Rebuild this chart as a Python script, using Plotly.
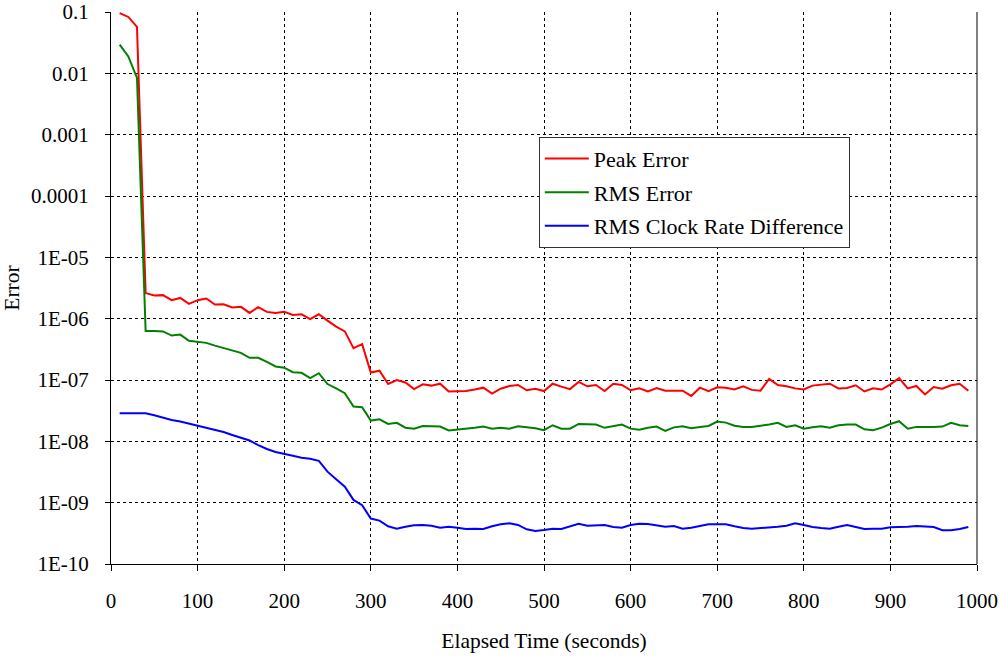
import plotly.graph_objects as go

time_s = list(range(10, 1000, 10))

peak_error = [
    0.096, 0.083, 0.057, 2.61e-6, 2.38e-6, 2.42e-6, 2.00e-6, 2.18e-6, 1.74e-6, 2.00e-6,
    2.13e-6, 1.70e-6, 1.72e-6, 1.52e-6, 1.56e-6, 1.24e-6, 1.54e-6, 1.29e-6, 1.24e-6, 1.29e-6,
    1.15e-6, 1.18e-6, 9.8e-7, 1.18e-6, 9.3e-7, 7.4e-7, 6.2e-7, 3.3e-7, 3.84e-7, 1.32e-7,
    1.42e-7, 8.6e-8, 1.00e-7, 9.1e-8, 7.1e-8, 8.5e-8, 8.1e-8, 8.7e-8, 6.5e-8, 6.6e-8,
    6.6e-8, 7.0e-8, 7.5e-8, 6.0e-8, 7.2e-8, 8.0e-8, 8.3e-8, 6.8e-8, 7.2e-8, 6.6e-8,
    8.7e-8, 7.8e-8, 7.1e-8, 9.3e-8, 7.9e-8, 8.3e-8, 6.6e-8, 8.7e-8, 8.3e-8, 6.8e-8,
    7.3e-8, 6.5e-8, 7.4e-8, 6.7e-8, 6.7e-8, 6.7e-8, 5.5e-8, 7.5e-8, 6.6e-8, 7.6e-8,
    7.5e-8, 7.0e-8, 7.9e-8, 6.9e-8, 6.7e-8, 1.04e-7, 8.3e-8, 7.9e-8, 7.3e-8, 7.0e-8,
    8.1e-8, 8.4e-8, 8.7e-8, 7.3e-8, 7.4e-8, 8.2e-8, 6.5e-8, 7.3e-8, 7.0e-8, 8.5e-8,
    1.07e-7, 7.3e-8, 8.0e-8, 5.8e-8, 7.7e-8, 7.2e-8, 8.2e-8, 8.7e-8, 6.7e-8,
]

rms_error = [
    0.0293, 0.0189, 0.0084, 6.3e-7, 6.3e-7, 6.2e-7, 5.3e-7, 5.5e-7, 4.35e-7, 4.23e-7,
    4.03e-7, 3.64e-7, 3.30e-7, 3.02e-7, 2.77e-7, 2.30e-7, 2.30e-7, 1.97e-7, 1.66e-7, 1.59e-7,
    1.34e-7, 1.31e-7, 1.07e-7, 1.29e-7, 8.6e-8, 7.3e-8, 6.1e-8, 3.7e-8, 3.6e-8, 2.18e-8,
    2.29e-8, 1.92e-8, 2.0e-8, 1.67e-8, 1.61e-8, 1.78e-8, 1.74e-8, 1.74e-8, 1.50e-8, 1.54e-8,
    1.61e-8, 1.66e-8, 1.74e-8, 1.61e-8, 1.66e-8, 1.61e-8, 1.76e-8, 1.70e-8, 1.64e-8, 1.52e-8,
    1.83e-8, 1.61e-8, 1.61e-8, 1.92e-8, 1.90e-8, 1.88e-8, 1.66e-8, 1.78e-8, 1.88e-8, 1.61e-8,
    1.54e-8, 1.66e-8, 1.74e-8, 1.48e-8, 1.69e-8, 1.76e-8, 1.64e-8, 1.72e-8, 1.78e-8, 2.10e-8,
    2.02e-8, 1.80e-8, 1.72e-8, 1.72e-8, 1.78e-8, 1.88e-8, 2.0e-8, 1.72e-8, 1.83e-8, 1.61e-8,
    1.70e-8, 1.76e-8, 1.67e-8, 1.83e-8, 1.88e-8, 1.88e-8, 1.57e-8, 1.52e-8, 1.67e-8, 1.92e-8,
    2.13e-8, 1.61e-8, 1.72e-8, 1.70e-8, 1.72e-8, 1.74e-8, 2.0e-8, 1.83e-8, 1.78e-8,
]

rms_clock_rate_diff = [
    2.87e-8, 2.87e-8, 2.87e-8, 2.87e-8, 2.67e-8, 2.41e-8, 2.23e-8, 2.10e-8, 1.95e-8, 1.80e-8,
    1.64e-8, 1.54e-8, 1.42e-8, 1.27e-8, 1.15e-8, 1.03e-8, 8.7e-9, 7.5e-9, 6.7e-9, 6.3e-9,
    5.8e-9, 5.4e-9, 5.2e-9, 4.8e-9, 3.2e-9, 2.41e-9, 1.82e-9, 1.11e-9, 9.1e-10, 5.5e-10,
    5.1e-10, 4.12e-10, 3.77e-10, 4.06e-10, 4.28e-10, 4.33e-10, 4.21e-10, 3.91e-10, 4.06e-10, 3.91e-10,
    3.72e-10, 3.77e-10, 3.72e-10, 4.12e-10, 4.44e-10, 4.62e-10, 4.33e-10, 3.68e-10, 3.45e-10, 3.58e-10,
    3.77e-10, 3.72e-10, 4.06e-10, 4.54e-10, 4.21e-10, 4.33e-10, 4.33e-10, 4.01e-10, 3.91e-10, 4.33e-10,
    4.54e-10, 4.49e-10, 4.28e-10, 4.06e-10, 4.17e-10, 3.77e-10, 3.91e-10, 4.17e-10, 4.44e-10, 4.44e-10,
    4.44e-10, 4.12e-10, 3.86e-10, 3.77e-10, 3.86e-10, 3.86e-10, 4.06e-10, 4.21e-10, 4.62e-10, 4.33e-10,
    4.01e-10, 3.86e-10, 3.77e-10, 4.06e-10, 4.33e-10, 4.01e-10, 3.72e-10, 3.77e-10, 3.77e-10, 3.97e-10,
    3.97e-10, 4.06e-10, 4.17e-10, 4.12e-10, 4.01e-10, 3.55e-10, 3.55e-10, 3.72e-10, 4.01e-10,
]

series_names = ["Peak Error", "RMS Error", "RMS Clock Rate Difference"]
series_colors = ["#FF0000", "#008000", "#0000FF"]

x_ticks = list(range(0, 1001, 100))
y_tickvals = [1e-1, 1e-2, 1e-3, 1e-4, 1e-5, 1e-6, 1e-7, 1e-8, 1e-9, 1e-10]
y_ticktext = ["0.1", "0.01", "0.001", "0.0001", "1E-05", "1E-06", "1E-07", "1E-08", "1E-09", "1E-10"]

FONT = "Liberation Serif, Times New Roman, serif"

fig = go.Figure()
for name, color, vals in zip(series_names, series_colors,
                             [peak_error, rms_error, rms_clock_rate_diff]):
    fig.add_trace(go.Scatter(
        x=time_s, y=vals, mode="lines", name=name, legendgroup=name,
        line=dict(color=color, width=2),
    ))

fig.update_layout(
    width=1002, height=657,
    margin=dict(l=111, r=25, t=12, b=93, autoexpand=False),
    paper_bgcolor="white", plot_bgcolor="white",
    font=dict(family=FONT, size=21, color="black"),
    showlegend=True,
    legend=dict(
        x=0.494, y=0.774, xanchor="left", yanchor="top",
        bgcolor="white", bordercolor="#333333", borderwidth=1,
        font=dict(family=FONT, size=22, color="black"),
        tracegroupgap=2, itemwidth=44,
    ),
    xaxis=dict(
        range=[0, 1000], tickvals=x_ticks, ticks="outside", ticklen=6,
        tickcolor="black", showline=True, linecolor="black", linewidth=1,
        showgrid=True, gridcolor="black", griddash="3px,3px", gridwidth=1,
        zeroline=False, ticklabelstandoff=12, automargin=False,
        tickfont=dict(family=FONT, size=21),
        title=dict(text="Elapsed Time (seconds)", standoff=20,
                   font=dict(family=FONT, size=21.5)),
    ),
    yaxis=dict(
        type="log", range=[-10, -1], tickvals=y_tickvals, ticktext=y_ticktext,
        ticks="outside", ticklen=5, tickcolor="black",
        showline=True, linecolor="black", linewidth=1,
        showgrid=True, gridcolor="black", griddash="3px,3px", gridwidth=1,
        zeroline=False, ticklabelstandoff=12, automargin=False,
        tickfont=dict(family=FONT, size=21),
        title=dict(text="Error", standoff=8, font=dict(family=FONT, size=21.5)),
    ),
    shapes=[dict(type="line", xref="paper", yref="paper", x0=1, x1=1, y0=0, y1=1,
                 line=dict(color="black", width=1))],
)

fig.write_html("out.html", config={"displayModeBar": False},
               post_script="document.body.style.margin='0';")
